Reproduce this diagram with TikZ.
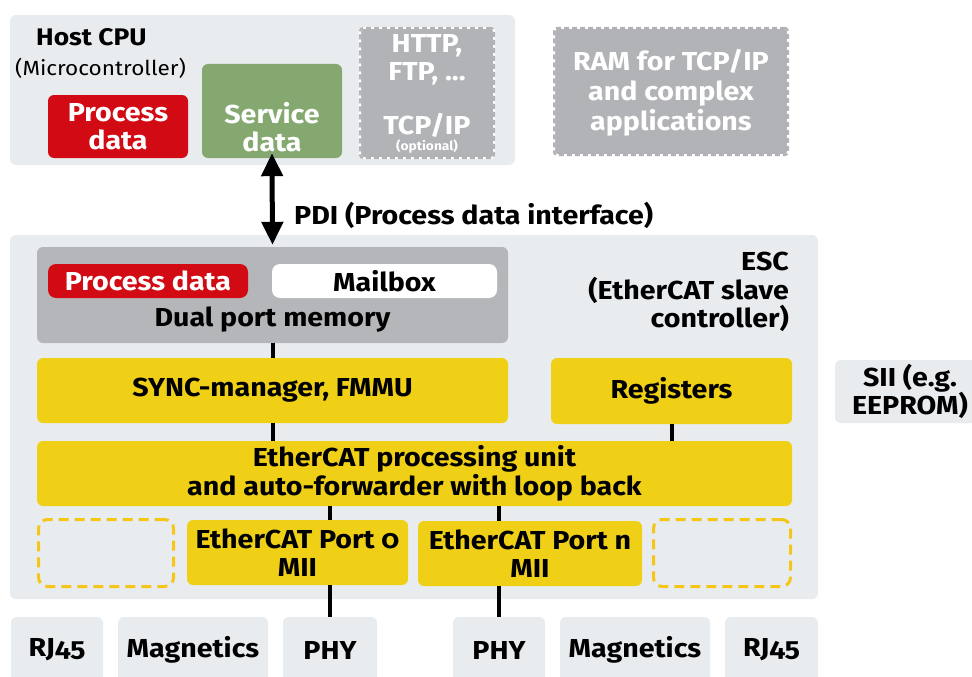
\documentclass[tikz,border=0pt]{standalone}
\usepackage{fontspec}
\setmainfont{Fira Sans}[Numbers=OldStyle, FakeStretch=1.1]
\usetikzlibrary{arrows.meta}
\definecolor{panel}{HTML}{E9ECEF}
\definecolor{pdred}{HTML}{D20A14}
\definecolor{sdgreen}{HTML}{84A870}
\definecolor{midgray}{HTML}{B2B3B6}
\definecolor{dpgray}{HTML}{B5B6B9}
\definecolor{escyellow}{HTML}{F0D016}
\definecolor{dashyellow}{HTML}{F5C518}
\begin{document}
\begin{tikzpicture}[x=1pt,y=-1pt,
  txt/.style={font=\bfseries\fontsize{26}{28.5}\selectfont, align=center, inner sep=0pt},
  box/.style={txt, rounded corners=6pt},
  panelbox/.style={box, fill=panel},
  redbox/.style={box, fill=pdred, text=white},
  greenbox/.style={box, fill=sdgreen, text=white},
  yelbox/.style={box, fill=escyellow},
  grbox/.style={txt, rounded corners=3pt, fill=midgray, draw=white, line width=2pt, text=white,
     postaction={draw=midgray, dash pattern=on 5pt off 3pt, line width=2pt}},
  dashbox/.style={rounded corners=9pt, draw=dashyellow, line width=3pt, dash pattern=on 10pt off 6pt, fill=panel},
  conn/.style={line width=4pt, black},
]
\useasboundingbox (0,0) rectangle (972,677);
\fill[white] (0,0) rectangle (972,677);

% Host CPU
\node[panelbox, minimum width=505, minimum height=150] (host) at (262.5,90) {};
\node[txt, font=\bfseries\fontsize{24}{26}\selectfont, anchor=west] (hosttitle) at (36,37) {Host CPU};
\node[txt, font=\fontsize{20.5}{24}\selectfont, anchor=west] (micro) at (15,68) {(Microcontroller)};
\node[redbox, minimum width=140, minimum height=63] (pd) at (118,126.5) {Process\\data};
\node[greenbox, minimum width=140, minimum height=94] (sd) at (272,111) {};
\node[txt, text=white] (sdt) at (272,127) {Service\\data};
\node[grbox, minimum width=134, minimum height=130] (http) at (427,93) {};
\node[txt, text=white] (httpt) at (427,60) {HTTP,\\FTP, ...};
\node[txt, text=white] (tcpt) at (427,125) {TCP/IP};
\node[txt, text=white, font=\bfseries\fontsize{12.5}{14}\selectfont] (optt) at (427,147) {(optional)};
\node[grbox, minimum width=234, minimum height=127] (ram) at (671,91.5) {};
\node[txt, text=white, font=\bfseries\fontsize{26}{30}\selectfont] (ramt) at (671,93) {RAM for TCP/IP\\and complex\\applications};

% ESC
\node[panelbox, minimum width=808, minimum height=364] (esc) at (414,417) {};
\node[txt, align=right, anchor=north east] (esct) at (789,252) {ESC\\(EtherCAT slave\\controller)};
\node[box, fill=dpgray, minimum width=471, minimum height=96] (dpm) at (272.5,295) {};
\node[txt] (dpmt) at (272.5,320) {Dual port memory};
\node[redbox, rounded corners=8pt, minimum width=200, minimum height=34] (pd2) at (148,281) {Process data};
\node[box, rounded corners=8pt, fill=white, minimum width=225, minimum height=34] (mb) at (384.5,281) {Mailbox};
\node[yelbox, minimum width=471, minimum height=65] (sync) at (272.5,390.5) {SYNC-manager, FMMU};
\node[yelbox, minimum width=241, minimum height=66] (reg) at (671.5,391) {Registers};
\node[panelbox, minimum width=150, minimum height=63] (sii) at (910,391.5) {SII (e.g.\\EEPROM)};
\node[yelbox, minimum width=755, minimum height=65] (proc) at (414.5,473.5) {EtherCAT processing unit\\and auto-forwarder with loop back};
\node[dashbox, minimum width=135, minimum height=67] (dl) at (106,553) {};
\node[yelbox, minimum width=221, minimum height=65] (port0) at (297.5,552.5) {EtherCAT Port 0\\MII};
\node[yelbox, minimum width=224, minimum height=65] (portn) at (530,553.5) {EtherCAT Port n\\MII};
\node[dashbox, minimum width=137, minimum height=67] (dr) at (722,553) {};

% bottom row
\node[panelbox, minimum width=92, minimum height=66] (rj1) at (57,650) {RJ45};
\node[panelbox, minimum width=150, minimum height=66] (mag1) at (193,650) {Magnetics};
\node[panelbox, minimum width=94, minimum height=66] (phy1) at (330,650) {PHY};
\node[panelbox, minimum width=92, minimum height=66] (phy2) at (499,650) {PHY};
\node[panelbox, minimum width=150, minimum height=66] (mag2) at (635,650) {Magnetics};
\node[panelbox, minimum width=93, minimum height=66] (rj2) at (771.5,650) {RJ45};

% connectors
\draw[line width=5pt, {Triangle[width=21pt,length=23pt]}-{Triangle[width=21pt,length=23pt]}, shorten <=-5pt, shorten >=2pt] (sd.south) -- (dpm.north);
\node[txt, anchor=west] (pdi) at (294,215) {PDI (Process data interface)};
\draw[conn] (dpm.south) -- (sync.north);
\draw[conn] (sync.south) -- (sync.south |- proc.north);
\draw[conn] (reg.south) -- (reg.south |- proc.north);
\draw[conn] (phy1.north |- proc.south) -- (phy1.north |- port0.north);
\draw[conn] (phy1.north |- port0.south) -- (phy1.north);
\draw[conn] (phy2.north |- proc.south) -- (phy2.north |- portn.north);
\draw[conn] (phy2.north |- portn.south) -- (phy2.north);
\end{tikzpicture}
\end{document}
